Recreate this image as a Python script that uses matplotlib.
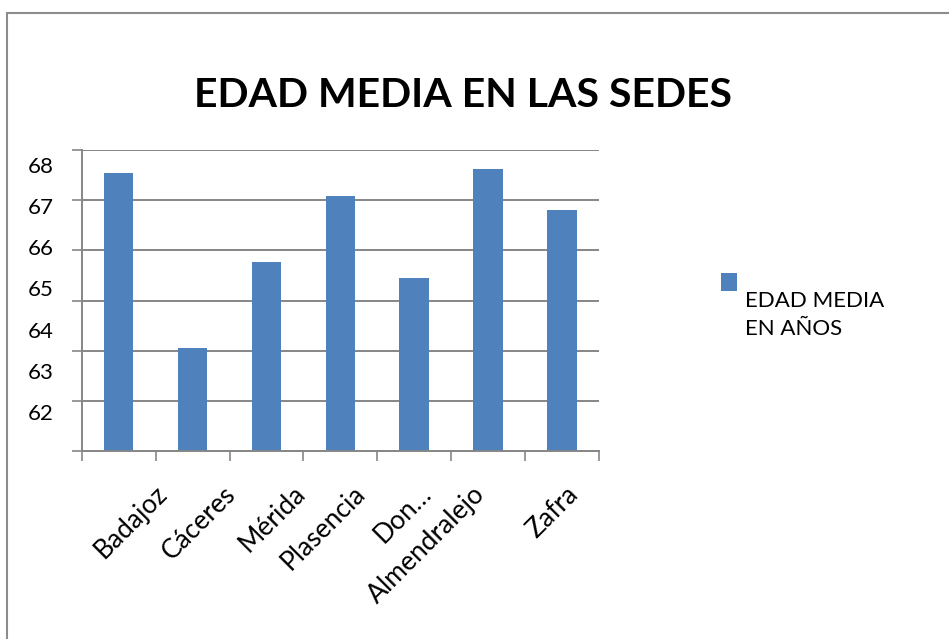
import numpy as np
import matplotlib
matplotlib.use("Agg")
import matplotlib.pyplot as plt
from matplotlib.patches import Rectangle
from matplotlib.transforms import ScaledTranslation, blended_transform_factory

# data
sedes = ["Badajoz", "Cáceres", "Mérida", "Plasencia", "Don…", "Almendralejo", "Zafra"]
edad_media = [67.54, 64.05, 65.77, 67.08, 65.45, 67.63, 66.80]
y_ticks = [62, 63, 64, 65, 66, 67, 68]
serie = "EDAD MEDIA\nEN AÑOS"
titulo = "EDAD MEDIA EN LAS SEDES"

BLUE, GRID = "#4F81BD", "#868686"
W, H = 949, 639
plt.rcParams["font.family"] = ["Lato", "DejaVu Sans"]

fig = plt.figure(figsize=(W / 100, H / 100), dpi=100)
ax = fig.add_axes([81.7 / W, 1 - 451 / H, (599 - 81.7) / W, (451 - 150) / H])

x = np.arange(len(sedes))
bars = ax.bar(x, edad_media, width=0.4, color=BLUE, zorder=2)
ax.set_xlim(-0.5, len(sedes) - 0.5)
ax.set_ylim(y_ticks[0], y_ticks[-1])

# gridlines + outward ticks, gray like the spreadsheet chart
ax.set_yticks(y_ticks)
ax.yaxis.grid(True, color=GRID, lw=1.4, zorder=1)
ax.tick_params(axis="y", which="major", length=7, width=1.2, color=GRID, labelleft=False)
# value labels sit a bit squeezed in the original, put them on minor ticks
ax.set_yticks(np.linspace(67.7, 62.78, len(y_ticks)), minor=True)
ax.set_yticklabels([str(v) for v in y_ticks[::-1]], minor=True)
ax.tick_params(axis="y", which="minor", length=0, pad=20, labelsize=16)

ax.set_xticks(np.arange(len(sedes) + 1) - 0.5)
ax.tick_params(axis="x", length=7.2, width=1.2, color=GRID, labelbottom=False)
for s in ["top", "right"]:
    ax.spines[s].set_visible(False)
for s in ["left", "bottom"]:
    ax.spines[s].set_color(GRID)
    ax.spines[s].set_linewidth(1.4)

# rotated category labels, each nudged like the reference
shift_px = [45, 39, 35, 21, 13, -7, 12]
base = blended_transform_factory(ax.transData, ax.transAxes)
for i, (name, dx) in enumerate(zip(sedes, shift_px)):
    tr = base + ScaledTranslation(dx / 100, -39 / 100, fig.dpi_scale_trans)
    ax.text(x[i], 0, name, transform=tr, rotation=45, rotation_mode="anchor",
            ha="right", va="center", fontsize=19)

fig.text(463 / W, 1 - 107 / H, titulo, ha="center", va="baseline",
         fontsize=29.5, fontweight="bold")

# legend box drawn by hand so the square sits above the two text lines
fig.patches.append(Rectangle((721 / W, 1 - 291 / H), 16 / W, 18 / H,
                             transform=fig.transFigure,
                             facecolor=bars.patches[0].get_facecolor(), edgecolor="none"))
fig.text(745 / W, 1 - 335 / H, serie, ha="left", va="baseline", fontsize=16, linespacing=1.5)

# chart frame (only left and top edges fall inside the picture)
fig.patches.append(Rectangle((7 / W, -0.5), 2, 0.5 + (1 - 12.7 / H), transform=fig.transFigure,
                             fill=False, edgecolor="#8c8c8c", lw=1.5, clip_on=False))

fig.savefig("out.png", dpi=100)
